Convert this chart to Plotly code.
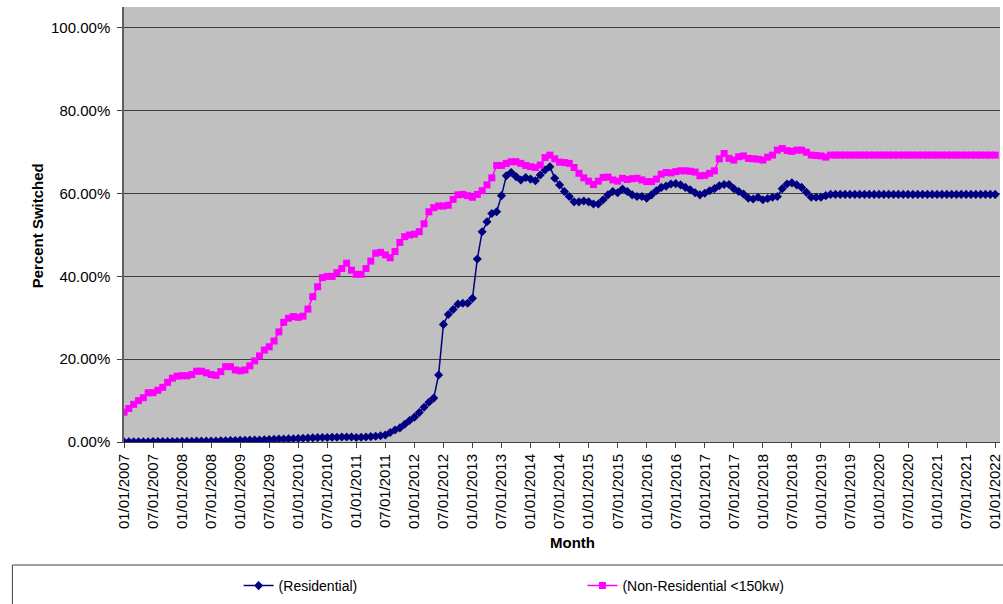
import numpy as np
import pandas as pd
import plotly.graph_objects as go

# Month categories (monthly, 01/01/2007 .. 01/01/2022)
months = pd.date_range("2007-01-01", "2022-01-01", freq="MS").strftime("%m/%d/%Y").tolist()
tick_labels = [m for i, m in enumerate(months) if i % 6 == 0]

# Percent switched (in %)
residential = [
    0.05, 0.05, 0.05, 0.05, 0.05, 0.05, 0.1, 0.1, 0.1, 0.1,
    0.1, 0.1, 0.15, 0.15, 0.15, 0.2, 0.2, 0.2, 0.25, 0.25,
    0.3, 0.3, 0.35, 0.35, 0.4, 0.4, 0.45, 0.5, 0.5, 0.55,
    0.6, 0.65, 0.7, 0.7, 0.75, 0.8, 0.85, 0.9, 0.95, 1.0,
    1.05, 1.1, 1.1, 1.15, 1.15, 1.2, 1.2, 1.2, 1.1, 1.15,
    1.2, 1.3, 1.4, 1.5, 1.7, 2.3, 2.9, 3.4, 4.3, 5.2,
    6.0, 7.1, 8.4, 9.6, 10.6, 16.2, 28.4, 30.8, 32.0, 33.3,
    33.5, 33.5, 34.7, 44.2, 50.8, 53.2, 55.2, 55.6, 59.5, 64.3,
    65.1, 64.1, 63.3, 63.9, 63.5, 63.1, 64.5, 65.7, 66.5, 63.7,
    62.1, 60.5, 59.3, 58.0, 58.0, 58.2, 58.0, 57.5, 57.5, 58.5,
    59.7, 60.5, 60.2, 61.1, 60.5, 59.7, 59.3, 59.3, 58.9, 59.7,
    60.7, 61.5, 61.8, 62.3, 62.4, 62.1, 61.5, 60.9, 60.2, 59.7,
    60.1, 60.7, 61.2, 61.9, 62.2, 62.2, 61.2, 60.5, 59.9, 58.9,
    58.7, 59.1, 58.5, 58.8, 59.1, 59.3, 61.2, 62.3, 62.6, 62.1,
    61.5, 60.3, 59.1, 59.1, 59.1, 59.5, 59.8, 59.8, 59.8, 59.8,
    59.8, 59.8, 59.8, 59.8, 59.8, 59.8, 59.8, 59.8, 59.8, 59.8,
    59.8, 59.8, 59.8, 59.8, 59.8, 59.8, 59.8, 59.8, 59.8, 59.8,
    59.8, 59.8, 59.8, 59.8, 59.8, 59.8, 59.8, 59.8, 59.8, 59.8,
    59.8,
]

non_residential = [
    7.2, 8.1, 9.1, 10.0, 10.7, 11.9, 11.9, 12.5, 13.2, 14.4,
    15.4, 15.9, 16.0, 16.0, 16.3, 17.1, 17.1, 16.7, 16.3, 16.1,
    17.0, 18.2, 18.2, 17.4, 17.2, 17.4, 18.4, 19.6, 20.8, 22.2,
    23.0, 24.4, 26.6, 28.9, 29.9, 30.3, 30.1, 30.4, 32.1, 35.1,
    37.5, 39.7, 40.0, 40.0, 40.9, 41.9, 43.2, 41.5, 40.5, 40.5,
    41.9, 43.7, 45.6, 45.8, 45.2, 44.5, 46.0, 48.2, 49.6, 50.0,
    50.2, 50.8, 52.7, 55.6, 56.6, 57.0, 57.0, 57.2, 58.6, 59.7,
    59.8, 59.5, 59.1, 59.8, 60.7, 62.1, 63.8, 66.8, 66.8, 67.3,
    67.7, 67.7, 67.3, 66.8, 66.5, 66.3, 66.9, 68.7, 69.3, 68.4,
    67.6, 67.5, 67.3, 66.3, 64.9, 63.8, 63.0, 62.2, 63.0, 63.9,
    64.0, 63.3, 63.0, 63.7, 63.4, 63.6, 63.7, 63.3, 62.9, 62.9,
    63.5, 64.7, 65.1, 65.0, 65.3, 65.5, 65.5, 65.4, 65.2, 64.3,
    64.4, 64.9, 65.5, 68.4, 69.7, 68.5, 68.1, 68.9, 69.1, 68.5,
    68.4, 68.3, 68.1, 68.8, 69.3, 70.5, 70.9, 70.4, 70.2, 70.5,
    70.5, 70.0, 69.3, 69.2, 69.1, 68.8, 69.3, 69.3, 69.3, 69.3,
    69.3, 69.3, 69.3, 69.3, 69.3, 69.3, 69.3, 69.3, 69.3, 69.3,
    69.3, 69.3, 69.3, 69.3, 69.3, 69.3, 69.3, 69.3, 69.3, 69.3,
    69.3, 69.3, 69.3, 69.3, 69.3, 69.3, 69.3, 69.3, 69.3, 69.3,
    69.3,
]

W, H = 1003, 604
L, R, T, B = 124, 0, 7, 162
pw, ph = W - L - R, H - T - B

def px_x(x):
    return (x - L) / pw

def px_y(y):
    return (H - B - y) / ph

FONT = "Liberation Sans, Arial, sans-serif"

fig = go.Figure()
fig.add_trace(go.Scatter(
    x=months, y=np.array(residential) / 100, name="(Residential)",
    mode="lines+markers", line=dict(color="#000080", width=1.5),
    marker=dict(symbol="diamond", size=7, color="#000080"),
    legend="legend",
))
fig.add_trace(go.Scatter(
    x=months, y=np.array(non_residential) / 100, name="(Non-Residential <150kw)",
    mode="lines+markers", line=dict(color="#FF00FF", width=1.5),
    marker=dict(symbol="square", size=7, color="#FF00FF"),
    legend="legend2",
))

fig.update_layout(
    width=W, height=H,
    margin=dict(l=L, r=R, t=T, b=B),
    paper_bgcolor="white",
    plot_bgcolor="#C0C0C0",
    font=dict(family=FONT, size=15, color="black"),
    xaxis=dict(
        type="category", range=[0, 181],
        tickmode="array", tickvals=tick_labels, ticktext=tick_labels,
        tickangle=-90, ticks="outside", ticklen=5, tickcolor="#404040",
        showline=True, linecolor="#404040", linewidth=1,
        showgrid=False, zeroline=False,
        tickfont=dict(size=15),
    ),
    yaxis=dict(
        range=[0, 1.0507], tickmode="array",
        tickvals=[0, 0.2, 0.4, 0.6, 0.8, 1.0], tickformat=".2%",
        ticks="outside", ticklen=5, tickcolor="#404040",
        showline=True, linecolor="#606060", linewidth=1.5,
        showgrid=True, gridcolor="#404040", gridwidth=1,
        zeroline=False, tickfont=dict(size=15), ticklabelstandoff=4,
    ),
    legend=dict(
        x=px_x(239), y=px_y(586), xanchor="left", yanchor="middle",
        orientation="h", bgcolor="rgba(0,0,0,0)", borderwidth=0,
        font=dict(size=14),
    ),
    legend2=dict(
        x=px_x(584), y=px_y(586), xanchor="left", yanchor="middle",
        orientation="h", bgcolor="rgba(0,0,0,0)", borderwidth=0,
        font=dict(size=14),
    ),
    shapes=[dict(
        type="rect", xref="paper", yref="paper",
        x0=px_x(12), x1=px_x(1010), y0=px_y(640), y1=px_y(565),
        line=dict(color="#404040", width=1), fillcolor="rgba(0,0,0,0)",
        layer="below",
    )],
    annotations=[
        dict(text="<b>Percent Switched</b>", xref="paper", yref="paper",
             x=px_x(37), y=px_y(226), textangle=-90, showarrow=False,
             xanchor="center", yanchor="middle", font=dict(size=15)),
        dict(text="<b>Month</b>", xref="paper", yref="paper",
             x=px_x(574), y=px_y(542), showarrow=False,
             xanchor="center", yanchor="middle", font=dict(size=15)),
    ],
    showlegend=True,
)

fig.write_html("out.html", config={"displayModeBar": False},
               post_script="document.body.style.margin='0';")
